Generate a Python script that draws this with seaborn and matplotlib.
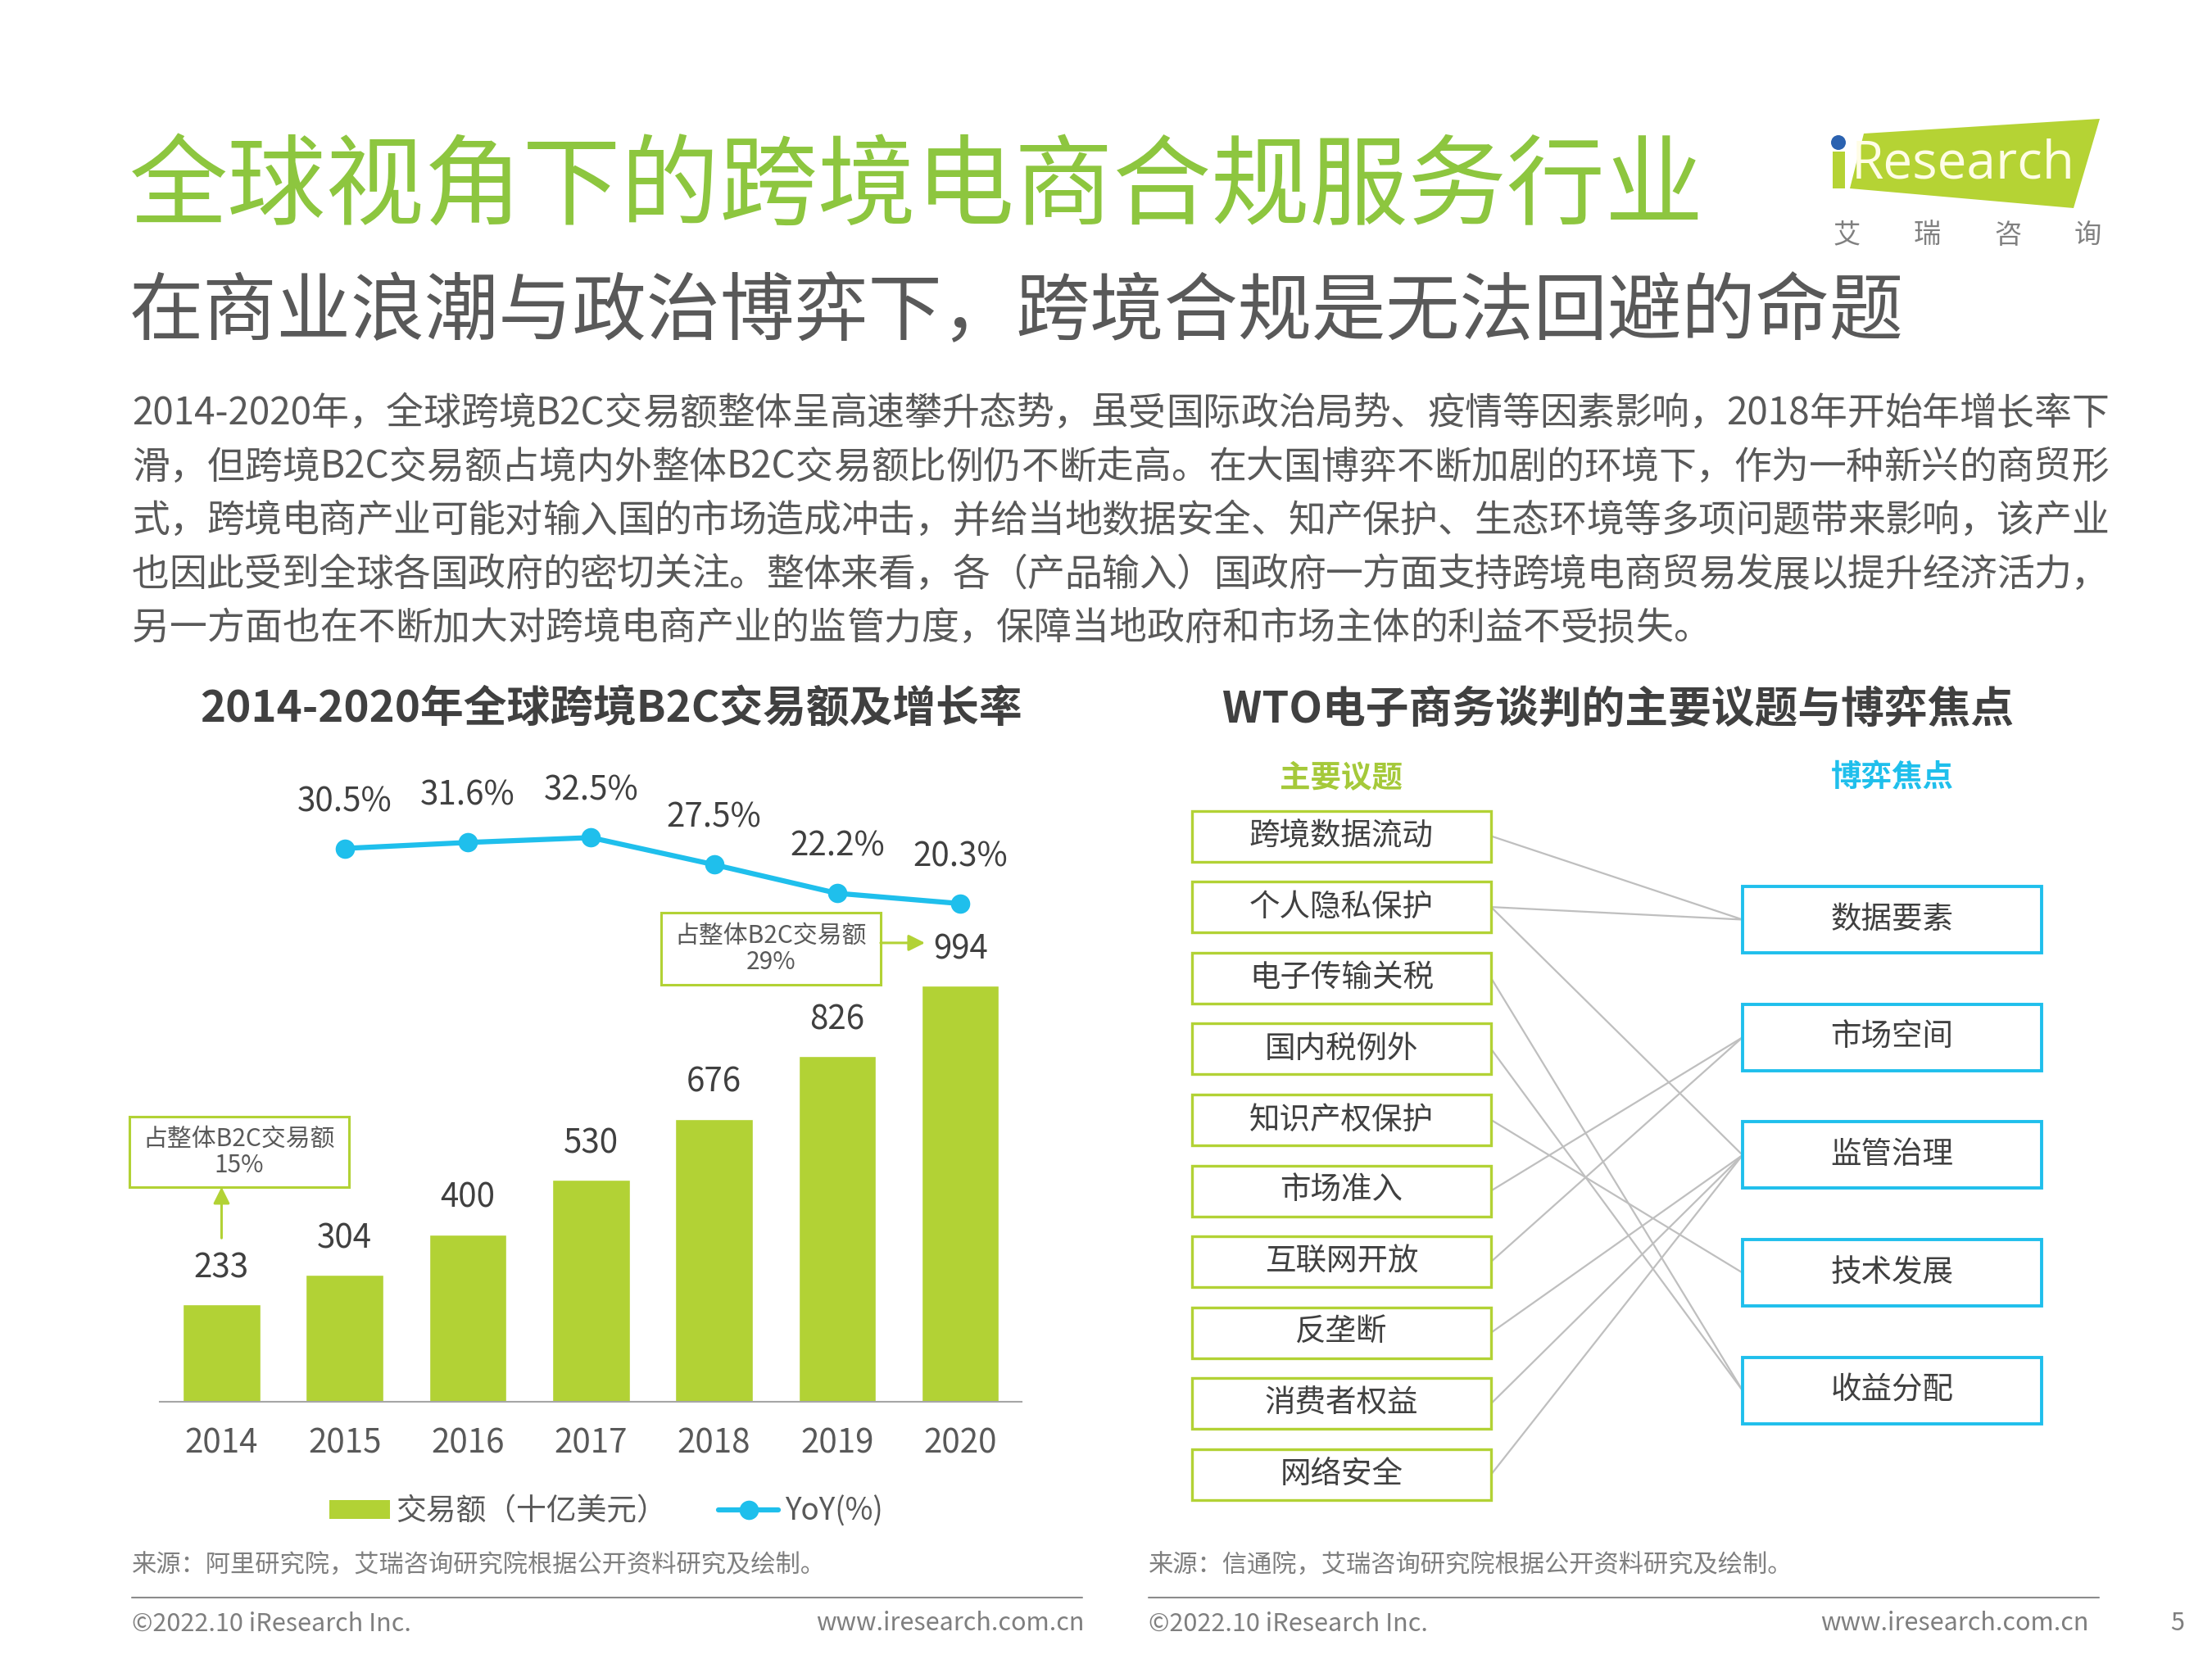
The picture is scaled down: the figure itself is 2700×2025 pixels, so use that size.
import re
import numpy as np
import pandas as pd
import seaborn as sns
import matplotlib.pyplot as plt
from matplotlib.patches import Rectangle, Polygon, Circle, Patch
from matplotlib.lines import Line2D

W, H = 2700, 2025

# ---- data ----
years = ['2014', '2015', '2016', '2017', '2018', '2019', '2020']
amounts = [233, 304, 400, 530, 676, 826, 994]          # 交易额（十亿美元）
yoy_years = ['2015', '2016', '2017', '2018', '2019', '2020']
yoy = [30.5, 31.6, 32.5, 27.5, 22.2, 20.3]              # YoY(%)

issues = ['跨境数据流动', '个人隐私保护', '电子传输关税', '国内税例外', '知识产权保护',
          '市场准入', '互联网开放', '反垄断', '消费者权益', '网络安全']
focuses = ['数据要素', '市场空间', '监管治理', '技术发展', '收益分配']
links = [(0, 0), (1, 0), (1, 2), (2, 4), (3, 4), (4, 3),
         (5, 1), (6, 1), (7, 2), (8, 2), (9, 2)]

title = '全球视角下的跨境电商合规服务行业'
subtitle = '在商业浪潮与政治博弈下，跨境合规是无法回避的命题'
para_lines = [
    '2014-2020年，全球跨境B2C交易额整体呈高速攀升态势，虽受国际政治局势、疫情等因素影响，2018年开始年增长率下',
    '滑，但跨境B2C交易额占境内外整体B2C交易额比例仍不断走高。在大国博弈不断加剧的环境下，作为一种新兴的商贸形',
    '式，跨境电商产业可能对输入国的市场造成冲击，并给当地数据安全、知产保护、生态环境等多项问题带来影响，该产业',
    '也因此受到全球各国政府的密切关注。整体来看，各（产品输入）国政府一方面支持跨境电商贸易发展以提升经济活力，',
    '另一方面也在不断加大对跨境电商产业的监管力度，保障当地政府和市场主体的利益不受损失。',
]

GREEN_T = '#8DC63F'
BAR_GREEN = '#B2D235'
CYAN = '#1FBFEC'
DARK = '#404040'
GRAY = '#595959'
LGRAY = '#7F7F7F'

sns.set_theme(style='white')
plt.rcParams['font.family'] = ['Noto Sans CJK SC', 'DejaVu Sans']

fig = plt.figure(figsize=(27, 20.25), dpi=100)
fig.patch.set_facecolor('white')

# overlay in pixel coordinates for page text and the diagram
ov = fig.add_axes([0, 0, 1, 1], zorder=0)
ov.set_xlim(0, W)
ov.set_ylim(H, 0)
ov.axis('off')

renderer = fig.canvas.get_renderer()


def justified(text, y, x0, x1, size, color, justify=True):
    tokens = re.findall(r'[\x00-\x7f]+|.', text)
    arts, widths = [], []
    for tok in tokens:
        t = ov.text(0, y, tok, fontsize=size, color=color, va='center', ha='left')
        widths.append(t.get_window_extent(renderer).width)
        arts.append(t)
    gap = (x1 - x0 - sum(widths)) / (len(tokens) - 1) if justify else 0
    x = x0
    for t, w in zip(arts, widths):
        t.set_x(x)
        x += w + gap


# ---- header ----
ov.text(158, 231, title, fontsize=86.5, color=GREEN_T, va='center', ha='left')
ov.text(158, 383, subtitle, fontsize=65, color=GRAY, va='center', ha='left')
for i, line in enumerate(para_lines):
    justified(line, 505 + 65.5 * i, 161, 2574, 33, GRAY, justify=i < len(para_lines) - 1)

# logo
ov.add_patch(Polygon([(2275, 163), (2563, 145), (2531, 254), (2258, 230)],
                     closed=True, facecolor='#B5D334', edgecolor='none'))
ov.add_patch(Rectangle((2237, 185), 15, 45, facecolor='#B5D334', edgecolor='none'))
ov.add_patch(Circle((2244, 174), 9, facecolor='#2B62B0', edgecolor='none'))
ov.text(2260, 201, 'Research', fontsize=46, color='#FFFDE6', va='center', ha='left',
        family='Open Sans')
for ch, x in zip('艾瑞咨询', [2254, 2352, 2451, 2548]):
    ov.text(x, 287, ch, fontsize=24, color='#808080', va='center', ha='center')

# ---- section titles ----
ov.text(746, 866, '2014-2020年全球跨境B2C交易额及增长率', fontsize=38, fontweight='bold',
        color=DARK, va='center', ha='center')
ov.text(1975, 866, 'WTO电子商务谈判的主要议题与博弈焦点', fontsize=38, fontweight='bold',
        color=DARK, va='center', ha='center')

# ---- bar + line chart ----
ax = fig.add_axes([195.3 / W, 1 - 1711 / H, 1052 / W, 787 / H], zorder=2)
df = pd.DataFrame({'year': years, 'amount': amounts})
sns.barplot(data=df, x='year', y='amount', color=BAR_GREEN, saturation=1, width=0.63, ax=ax)
ax.bar_label(ax.containers[0], padding=17, fontsize=29, color=DARK)
ax.set_xlim(-0.5, 6.5)
ax.set_ylim(0, 1540)
ax.set_xlabel('')
ax.set_ylabel('')
ax.set_yticks([])
ax.tick_params(axis='x', length=0, pad=22, labelsize=29, labelcolor=GRAY)
for s in ['top', 'left', 'right']:
    ax.spines[s].set_visible(False)
ax.spines['bottom'].set_color('#A6A6A6')
ax.spines['bottom'].set_linewidth(1.5)
ax.patch.set_alpha(0)

ax2 = ax.twinx()
pos = [years.index(y) for y in yoy_years]
sns.lineplot(x=pos, y=yoy, color=CYAN, linewidth=4.5, marker='o', markersize=17,
             markeredgewidth=0, legend=False, ax=ax2)
for x, v in zip(pos, yoy):
    ax2.annotate(f'{v}%', (x, v), xytext=(0, 41), textcoords='offset points',
                 ha='center', va='center', fontsize=29, color=DARK)
ax2.set_ylim(-71.8, 47.4)
ax2.set_xlim(-0.5, 6.5)
ax2.set_yticks([])
ax2.set_ylabel('')
for s in ax2.spines.values():
    s.set_visible(False)

# share callouts
ax.add_patch(Rectangle((-0.748, 513), 1.783, 168, fill=False, edgecolor=BAR_GREEN,
                       linewidth=2.2, clip_on=False))
ax.text(0.1435, 597, '占整体B2C交易额\n15%', fontsize=21.5, color=GRAY, ha='center',
        va='center', linespacing=1.05)
ax.annotate('', xy=(0, 513), xytext=(0, 391),
            arrowprops=dict(arrowstyle='-|>', color=BAR_GREEN, lw=2.2, mutation_scale=30,
                            shrinkA=0, shrinkB=0))
ax.add_patch(Rectangle((3.57, 996), 1.783, 172, fill=False, edgecolor=BAR_GREEN,
                       linewidth=2.2, clip_on=False))
ax.text(4.4615, 1082, '占整体B2C交易额\n29%', fontsize=21.5, color=GRAY, ha='center',
        va='center', linespacing=1.05)
ax.annotate('', xy=(5.713, 1096), xytext=(5.353, 1096),
            arrowprops=dict(arrowstyle='-|>', color=BAR_GREEN, lw=2.2, mutation_scale=30,
                            shrinkA=0, shrinkB=0))

handles = [Patch(facecolor=BAR_GREEN, edgecolor='none'),
           Line2D([], [], color=CYAN, lw=4.5, marker='o', ms=17, mew=0)]
fig.legend(handles, ['交易额（十亿美元）', 'YoY(%)'], loc='center',
           bbox_to_anchor=(740 / W, 1 - 1845 / H), ncol=2, frameon=False, fontsize=26.5,
           handlelength=2.0, handleheight=0.55, handletextpad=0.2, columnspacing=1.7,
           labelcolor=GRAY)

# ---- WTO diagram ----
LX0, LX1, LH = 1455, 1820, 62
RX0, RX1, RH = 2127, 2492, 81
left_c = [1020.5 + 86.6 * i for i in range(len(issues))]
right_c = [1122.5 + 143.7 * j for j in range(len(focuses))]

ov.text((LX0 + LX1) / 2, 949, '主要议题', fontsize=27, fontweight='bold', color='#A5C93A',
        ha='center', va='center')
ov.text((RX0 + RX1) / 2, 949, '博弈焦点', fontsize=27, fontweight='bold', color=CYAN,
        ha='center', va='center')

for i, j in links:
    ov.plot([LX1, RX0], [left_c[i], right_c[j]], color='#BFBFBF', lw=1.6, zorder=1)

for name, cy in zip(issues, left_c):
    ov.add_patch(Rectangle((LX0, cy - LH / 2), LX1 - LX0, LH, facecolor='white',
                           edgecolor=BAR_GREEN, lw=2.4, zorder=2))
    ov.text((LX0 + LX1) / 2, cy, name, fontsize=27, color=DARK, ha='center', va='center',
            zorder=3)
for name, cy in zip(focuses, right_c):
    ov.add_patch(Rectangle((RX0, cy - RH / 2), RX1 - RX0, RH, facecolor='white',
                           edgecolor=CYAN, lw=2.8, zorder=2))
    ov.text((RX0 + RX1) / 2, cy, name, fontsize=27, color=DARK, ha='center', va='center',
            zorder=3)

# ---- sources and footer ----
ov.text(161, 1911, '来源：阿里研究院，艾瑞咨询研究院根据公开资料研究及绘制。', fontsize=21.8,
        color=LGRAY, ha='left', va='center')
ov.text(1402, 1911, '来源：信通院，艾瑞咨询研究院根据公开资料研究及绘制。', fontsize=21.8,
        color=LGRAY, ha='left', va='center')
ov.plot([161, 1321], [1950, 1950], color='#8C8C8C', lw=1.5)
ov.plot([1402, 2562], [1950, 1950], color='#8C8C8C', lw=1.5)
for x0, x1 in [(161, 1324), (1402, 2550)]:
    ov.text(x0, 1982, '©2022.10 iResearch Inc.', fontsize=22, color=LGRAY, ha='left', va='center')
    ov.text(x1, 1982, 'www.iresearch.com.cn', fontsize=22, color=LGRAY, ha='right', va='center')
ov.text(2658, 1982, '5', fontsize=22, color=LGRAY, ha='center', va='center')

fig.savefig('out.png', dpi=100, facecolor='white')
